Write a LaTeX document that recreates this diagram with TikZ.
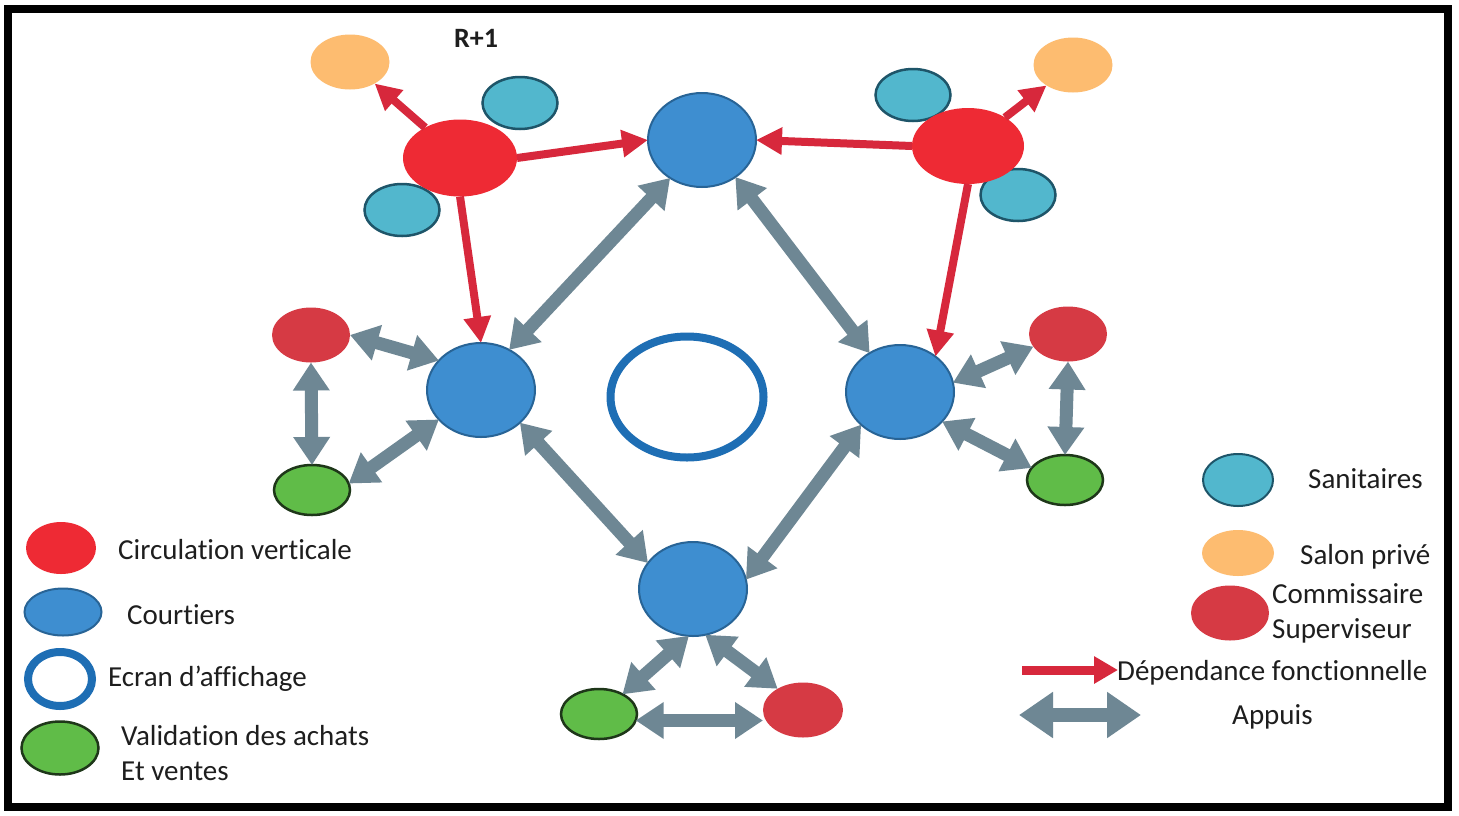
\documentclass[tikz,border=0pt]{standalone}
\usepackage{fontspec}
\setmainfont{Carlito}[RawFeature=-liga]
\usetikzlibrary{shapes.geometric,arrows.meta}
\definecolor{cred}{RGB}{238,42,52}
\definecolor{ccom}{RGB}{214,58,68}
\definecolor{csan}{RGB}{82,183,205}
\definecolor{csanb}{RGB}{30,85,105}
\definecolor{csal}{RGB}{253,188,112}
\definecolor{ccou}{RGB}{62,142,208}
\definecolor{ccoub}{RGB}{40,100,150}
\definecolor{cring}{RGB}{30,110,180}
\definecolor{cgreen}{RGB}{96,188,72}
\definecolor{cgreenb}{RGB}{30,55,25}
\definecolor{cgrey}{RGB}{110,135,148}
\definecolor{cdep}{RGB}{215,40,60}
\definecolor{ctext}{RGB}{30,30,30}
\tikzset{
  ell/.style={ellipse, inner sep=0pt, outer sep=0pt},
  circv/.style={ell, fill=cred},
  comm/.style={ell, fill=ccom, minimum width=78pt, minimum height=55pt},
  sani/.style={ell, fill=csan, draw=csanb, line width=2.5pt, minimum width=75pt, minimum height=52pt},
  salon/.style={ell, fill=csal, minimum width=79pt, minimum height=55pt},
  court/.style={ell, fill=ccou, draw=ccoub, line width=2pt, minimum width=108pt, minimum height=94pt},
  valid/.style={ell, fill=cgreen, draw=cgreenb, line width=2.5pt, minimum width=76pt, minimum height=50pt},
  ring/.style={ell, draw=cring, line width=8pt},
  appui/.style={draw=cgrey, line width=13pt, {Triangle[width=35pt,length=28pt]}-{Triangle[width=35pt,length=28pt]}},
  dep/.style={draw=cdep, line width=8pt, -{Triangle[width=26pt,length=26pt]}},
  lab/.style={anchor=base west, inner sep=0pt, text=ctext, font=\fontsize{29}{35}\selectfont},
}
\begin{document}
\begin{tikzpicture}[x=1pt,y=-1pt]
\useasboundingbox (0,0) rectangle (1459,815);
\fill[white] (0,0) rectangle (1459,815);
\draw[line width=8pt, black] (8,9) rectangle (1448,807);

% title
\node[anchor=base, inner sep=0pt, text=ctext, font=\bfseries\fontsize{28}{32}\selectfont] (title) at (476,47) {R+1};

% top-left cluster
\node[salon] (stl) at (350,62) {};
\node[sani] (sat) at (520,103) {};
\node[sani] (sal) at (402,210) {};
\node[circv, minimum width=114pt, minimum height=77pt] (rtl) at (460,158) {};

% top-right cluster
\node[salon] (str) at (1073,65) {};
\node[sani] (satr) at (913,95) {};
\node[sani] (sar) at (1018,195) {};
\node[circv, minimum width=112pt, minimum height=76pt] (rtr) at (968,146) {};

% courtiers
\node[court] (ct) at (702,140) {};
\node[court] (cl) at (481,390) {};
\node[court] (cr) at (900,392) {};
\node[court] (cb) at (693,589) {};

% screen
\node[ring, minimum width=153pt, minimum height=121pt] (scr) at (687,397) {};

% side nodes
\node[comm] (rl) at (311,335) {};
\node[valid] (gl) at (312,490) {};
\node[comm] (rr) at (1068,334) {};
\node[valid] (gr) at (1065,480) {};
\node[valid] (gb) at (599,714) {};
\node[comm, minimum width=80pt] (rb) at (803,710) {};

% red dependencies
\draw[dep] (rtl) -- (stl);
\draw[dep] (rtl.east) -- (ct.west);
\draw[dep] (rtl.south) -- (cl.north);
\draw[dep] (rtr.west) -- (ct.east);
\draw[dep] (rtr) -- (str);
\draw[dep] (rtr.south) -- (cr.45);

% grey supports
\draw[appui] (ct.-130) -- (cl.55);
\draw[appui] (ct.-48) -- (cr.128);
\draw[appui] (cl.-40) -- (cb.150);
\draw[appui] (cr.-140) -- (cb.10);
\draw[appui] (rl.east) -- (cl.145);
\draw[appui] (rl.south) -- (gl.north);
\draw[appui] (gl.10) -- (cl.215);
\draw[appui] (cr.10) -- (rr.200);
\draw[appui] (rr.south) -- (gr.north);
\draw[appui] (cr.-35) -- (gr.160);
\draw[appui] (cb.-95) -- (gb.40);
\draw[appui] (cb.-75) -- (rb.140);
\draw[appui] (gb.-10) -- (gb.-10 -| rb.west);

% legend left
\node[circv, minimum width=70pt, minimum height=52pt] (lg1) at (61,548) {};
\node[lab] (lt1) at (118,559) {Circulation verticale};
\node[ell, fill=ccou, draw=ccoub, line width=2pt, minimum width=77pt, minimum height=47pt] (lg2) at (63,612) {};
\node[lab] (lt2) at (127,624) {Courtiers};
\node[ring, minimum width=64pt, minimum height=54pt] (lg3) at (60,679) {};
\node[lab] (lt3) at (108,686) {Ecran d’affichage};
\node[valid, minimum width=77pt, minimum height=53pt] (lg4) at (60,748) {};
\node[lab] (lt4) at (121,745) {Validation des achats};
\node[lab] (lt5) at (121,780) {Et ventes};

% legend right
\node[ell, fill=csan, draw=csanb, line width=2pt, minimum width=70pt, minimum height=52pt] (lg5) at (1238,480) {};
\node[lab] (lt6) at (1308,488) {Sanitaires};
\node[ell, fill=csal, minimum width=72pt, minimum height=46pt] (lg6) at (1238,553) {};
\node[lab] (lt7) at (1300,564) {Salon privé};
\node[comm, minimum width=78pt, minimum height=55pt] (lg7) at (1230,613) {};
\node[lab] (lt8) at (1272,603) {Commissaire};
\node[lab] (lt9) at (1272,638) {Superviseur};
\coordinate (d1) at (1022,670);
\coordinate (d2) at (1118,670);
\draw[draw=cdep, line width=9pt, -{Triangle[width=26pt,length=24pt]}] (d1) -- (d2);
\node[lab] (lt10) at (1117,680) {Dépendance fonctionnelle};
\coordinate (a1) at (1019,715);
\coordinate (a2) at (1141,715);
\draw[draw=cgrey, line width=14pt, {Triangle[width=44pt,length=34pt]}-{Triangle[width=44pt,length=34pt]}] (a1) -- (a2);
\node[lab] (lt11) at (1232,724) {Appuis};
\end{tikzpicture}
\end{document}
